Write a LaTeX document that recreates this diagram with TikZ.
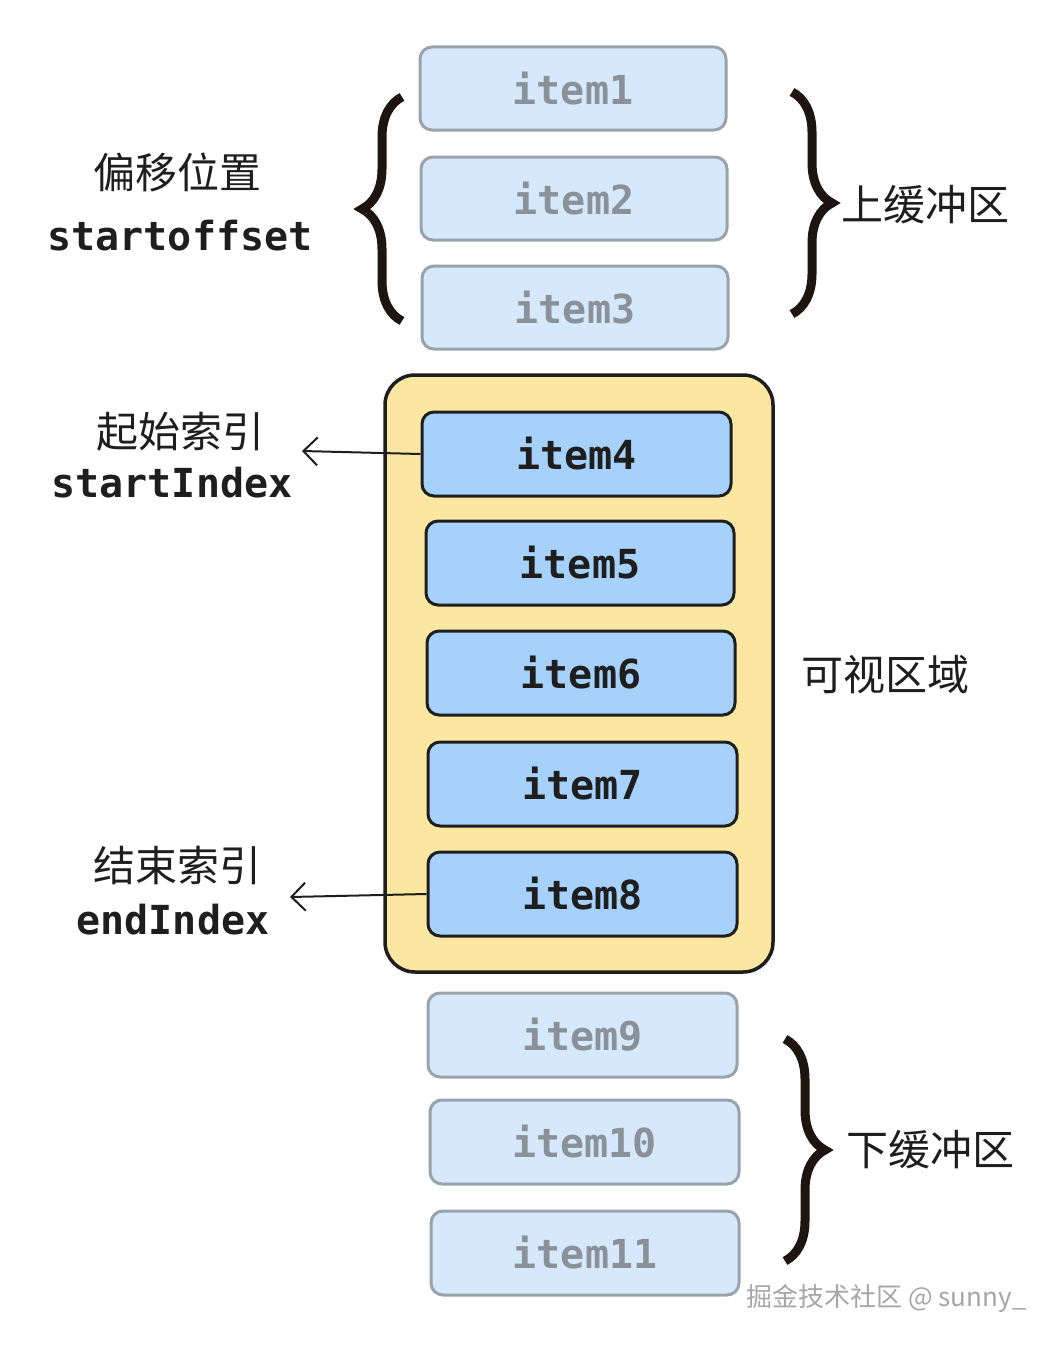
\documentclass[tikz,border=0pt]{standalone}
\usepackage{fontspec}
\setmainfont{DejaVu Sans Mono}
\newfontfamily\cjk{Noto Sans CJK SC}
\usetikzlibrary{decorations.pathreplacing,arrows.meta}
\definecolor{lightfill}{HTML}{D6E8FB}
\definecolor{lightline}{HTML}{9AA3AB}
\definecolor{lighttext}{HTML}{8A9199}
\definecolor{darkfill}{HTML}{A5D1FA}
\definecolor{yell}{HTML}{FBE7A1}
\definecolor{ink}{HTML}{1E1E1E}
\definecolor{brc}{HTML}{1E1410}
\tikzset{
 ghost/.style={draw=lightline,fill=lightfill,line width=3pt,rounded corners=12pt,text=lighttext,font=\fontsize{40}{44}\selectfont\bfseries},
 live/.style={draw=ink,fill=darkfill,line width=3pt,rounded corners=12pt,text=ink,font=\fontsize{40}{44}\selectfont\bfseries},
 cn/.style={font=\cjk\fontsize{42}{46}\selectfont,text=ink},
 mono/.style={font=\fontsize{40}{44}\selectfont\bfseries,text=ink},
 br/.style={decorate,decoration={brace,amplitude=40pt},line width=9pt,draw=brc},
 arr/.style={-{Straight Barb[length=14pt,width=28pt]},line width=2pt,draw=ink}
}
\begin{document}
\begin{tikzpicture}[x=1pt,y=-1pt]
\useasboundingbox (0,0) rectangle (1052,1346);
\node[draw=ink,fill=yell,line width=3.5pt,rounded corners=30pt,minimum width=388pt,minimum height=597pt] (view) at (579,673.5) {};
\node[ghost,minimum width=306pt,minimum height=83pt] (i1) at (573,88.5) {item1};
\node[ghost,minimum width=306pt,minimum height=83pt] (i2) at (574,198.5) {item2};
\node[ghost,minimum width=306pt,minimum height=83pt] (i3) at (575,307.5) {item3};
\node[live,minimum width=309pt,minimum height=84pt] (i4) at (576.5,454) {item4};
\node[live,minimum width=308pt,minimum height=84pt] (i5) at (580,563) {item5};
\node[live,minimum width=308pt,minimum height=84pt] (i6) at (581,673) {item6};
\node[live,minimum width=309pt,minimum height=84pt] (i7) at (582.5,784) {item7};
\node[live,minimum width=309pt,minimum height=84pt] (i8) at (582.5,894) {item8};
\node[ghost,minimum width=309pt,minimum height=84pt] (i9) at (582.5,1035) {item9};
\node[ghost,minimum width=309pt,minimum height=84pt] (i10) at (584.5,1142) {item10};
\node[ghost,minimum width=308pt,minimum height=84pt] (i11) at (585,1253) {item11};
% labels
\node[cn] (l1) at (177,172) {偏移位置};
\node[mono] (l2) at (180,236) {startoffset};
\node[cn] (l3) at (180,432) {起始索引};
\node[mono] (l4) at (172,483) {startIndex};
\node[cn] (l5) at (177,866) {结束索引};
\node[mono] (l6) at (173,920) {endIndex};
\node[cn,anchor=west] (r1) at (838,205) {上缓冲区};
\node[cn,anchor=west] (r2) at (798,675) {可视区域};
\node[cn,anchor=west] (r3) at (843,1150) {下缓冲区};
\node[font=\cjk\fontsize{26}{28}\selectfont,text=gray!70,anchor=west] (wm) at (743,1298) {掘金技术社区 @ sunny\_};
% braces
\coordinate (lb1) at (402,97); \coordinate (lb2) at (402,321);
\draw[br] (lb2) -- (lb1);
\coordinate (rb1) at (792,92); \coordinate (rb2) at (792,314);
\draw[br] (rb1) -- (rb2);
\coordinate (rb3) at (785,1039); \coordinate (rb4) at (785,1261);
\draw[br] (rb3) -- (rb4);
% arrows
\coordinate (a1) at (302,451);
\coordinate (a2) at (290,897);
\draw[arr] (i4.west) -- (a1);
\draw[arr] (i8.west) -- (a2);
\end{tikzpicture}
\end{document}
